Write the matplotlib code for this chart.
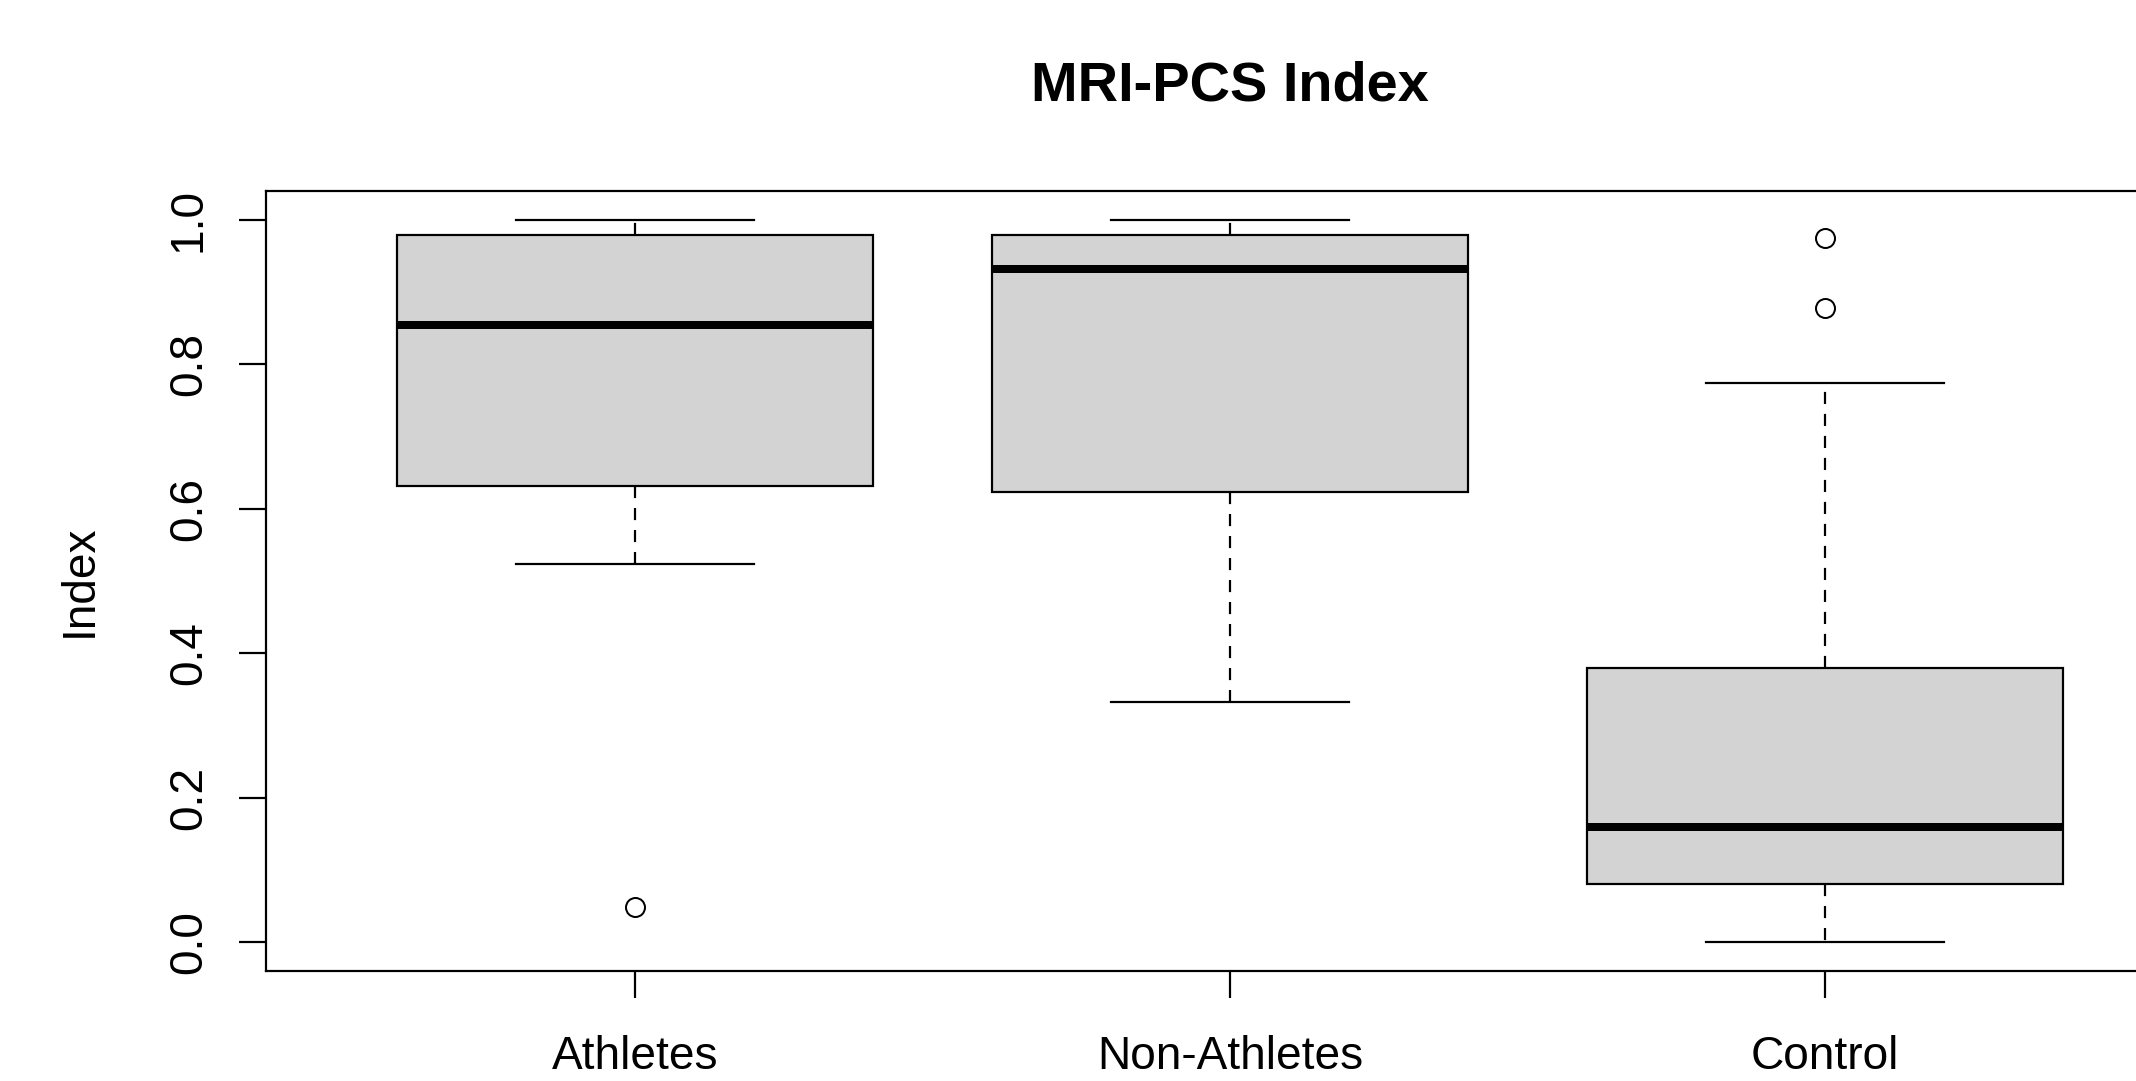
import matplotlib
matplotlib.use("Agg")
import matplotlib.pyplot as plt

plt.rcParams["font.family"] = ["Liberation Sans", "DejaVu Sans"]

groups = ["Athletes", "Non-Athletes", "Control"]
whislo = [0.524, 0.333, 0.0]
q1 = [0.631, 0.623, 0.081]
med = [0.855, 0.932, 0.160]
q3 = [0.979, 0.979, 0.380]
whishi = [1.0, 1.0, 0.774]
fliers = [[0.048], [], [0.975, 0.878]]

yticks = [0.0, 0.2, 0.4, 0.6, 0.8, 1.0]

dpi = 72
fig = plt.figure(figsize=(2136 / dpi, 1081 / dpi), dpi=dpi)
ax = fig.add_axes([266 / 2136, 110 / 1081, 1928 / 2136, 780 / 1081])

stats = []
for i, g in enumerate(groups):
    stats.append(
        dict(
            label=g,
            whislo=whislo[i],
            q1=q1[i],
            med=med[i],
            q3=q3[i],
            whishi=whishi[i],
            fliers=fliers[i],
        )
    )

lw = 2.2
ax.bxp(
    stats,
    positions=[1, 2, 3],
    widths=0.8,
    capwidths=0.4,
    patch_artist=True,
    boxprops=dict(facecolor="#d3d3d3", edgecolor="black", linewidth=lw),
    medianprops=dict(color="black", linewidth=8, solid_capstyle="butt"),
    whiskerprops=dict(color="black", linewidth=lw, linestyle=(0, (5.5, 4.5))),
    capprops=dict(color="black", linewidth=lw),
    flierprops=dict(
        marker="o",
        markerfacecolor="none",
        markeredgecolor="black",
        markersize=19,
        markeredgewidth=2,
    ),
)

ax.set_xlim(0.38, 3.62)
ax.set_ylim(-0.04, 1.04)
ax.set_yticks(yticks)
ax.set_yticklabels([f"{v:.1f}" for v in yticks])

for s in ax.spines.values():
    s.set_linewidth(lw)

ax.tick_params(axis="x", length=27, width=lw, pad=37, labelsize=46)
ax.tick_params(axis="y", length=27, width=lw, pad=28, labelsize=46, labelrotation=90)
for t in ax.get_yticklabels():
    t.set_va("center")

ax.set_ylabel("Index", fontsize=46)
ax.yaxis.set_label_coords(-0.085, 0.5)
ax.set_title("MRI-PCS Index", fontsize=56, fontweight="bold", pad=91)

fig.savefig("out.png", dpi=dpi)
